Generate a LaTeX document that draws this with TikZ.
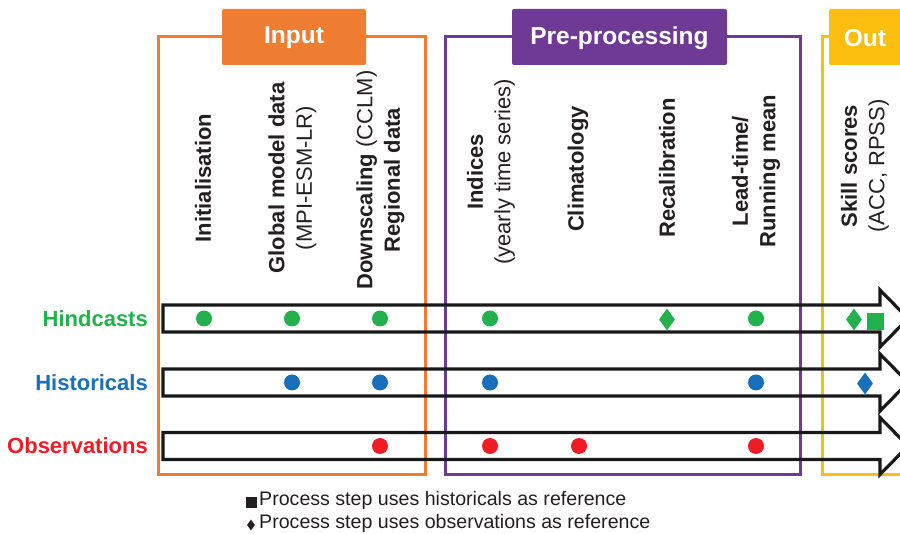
\documentclass[tikz,border=0pt]{standalone}
\usepackage{fontspec}
\setmainfont{Liberation Sans}
\usetikzlibrary{shapes.geometric}
\definecolor{cOrange}{HTML}{EE7D31}
\definecolor{cPurple}{HTML}{6E3A96}
\definecolor{cYellow}{HTML}{FDBE10}
\definecolor{cGreen}{HTML}{22B14C}
\definecolor{cBlue}{HTML}{1A6FBA}
\definecolor{cRed}{HTML}{EE1C24}
\definecolor{cText}{HTML}{231F20}
\tikzset{
  frame/.style={line width=3pt},
  header/.style={rounded corners=2pt},
  headtext/.style={text=white, font=\fontsize{24.5}{28}\selectfont\bfseries, inner sep=0pt},
  coltext/.style={rotate=90, align=center, text=cText, inner sep=0pt, font=\fontsize{22}{27.5}\selectfont},
  rowtext/.style={anchor=east, inner sep=0pt, font=\fontsize{22}{26}\selectfont\bfseries},
  flow/.style={draw=black!90, line width=3.2pt, line join=miter},
  dot/.style={circle, inner sep=0pt, minimum size=16pt},
  diam/.style={diamond, inner sep=0pt, minimum width=16pt, minimum height=22pt},
  sq/.style={rectangle, inner sep=0pt, minimum size=17pt},
  legtext/.style={anchor=west, inner sep=0pt, text=cText, font=\fontsize{19.6}{23}\selectfont}
}
\begin{document}
\begin{tikzpicture}[x=1pt, y=-1pt]
\useasboundingbox (0,0) rectangle (900,534);
\clip (0,0) rectangle (900,534);

% frames
\draw[frame, cOrange] (158,37) rectangle (425,475);
\draw[frame, cPurple] (445,37) rectangle (800,475);
\draw[frame, cYellow] (822,37) rectangle (920,475);

% headers
\fill[header, cOrange] (222,9) rectangle (366,65);
\node[headtext] (hin) at (294,38) {Input};
\fill[header, cPurple] (512,9) rectangle (727,65);
\node[headtext] (hpre) at (619.5,38) {Pre-processing};
\fill[header, cYellow] (829,9) rectangle (930,65);
\node[headtext] (hout) at (865,38) {Out};

% column texts
\node[coltext] (c1) at (203,178) {\bfseries Initialisation};
\node[coltext] (c2) at (292.5,178) {\bfseries Global model data\\(MPI-ESM-LR)};
\node[coltext] (c3) at (380.5,180) {{\bfseries Downscaling} (CCLM)\\\bfseries Regional data};
\node[coltext] (c4) at (491,172) {\bfseries Indices\\(yearly time series)};
\node[coltext] (c5) at (578,169) {\bfseries Climatology};
\node[coltext] (c6) at (667,168) {\bfseries Recalibration};
\node[coltext] (c7) at (756,171) {\bfseries Lead-time/\\\bfseries Running mean};
\node[coltext] (c8) at (865,166) {\bfseries Skill scores\\(ACC, RPSS)};

% row labels
\node[rowtext, text=cGreen] (rh) at (148,318.5) {Hindcasts};
\node[rowtext, text=cBlue] (rb) at (148,382.5) {Historicals};
\node[rowtext, text=cRed] (ro) at (148,446) {Observations};

% arrows
\foreach \cy in {318.5,382.5,446}{
  \draw[flow] (163,\cy-13.5) -- (880,\cy-13.5) -- (880,\cy-28.5) -- (908,\cy) -- (880,\cy+28.5) -- (880,\cy+13.5) -- (163,\cy+13.5) -- cycle;
}

% hindcast markers
\node[dot, fill=cGreen] (h1) at (204,318.5) {};
\node[dot, fill=cGreen] (h2) at (292,318.5) {};
\node[dot, fill=cGreen] (h3) at (380,318.5) {};
\node[dot, fill=cGreen] (h4) at (490,318.5) {};
\node[diam, fill=cGreen] (h6) at (667,319.5) {};
\node[dot, fill=cGreen] (h7) at (756,318.5) {};
\node[diam, fill=cGreen] (h8) at (854,319.5) {};
\node[sq, fill=cGreen] (h9) at (875,321.5) {};

% historical markers
\node[dot, fill=cBlue] (b2) at (292,382.5) {};
\node[dot, fill=cBlue] (b3) at (380,382.5) {};
\node[dot, fill=cBlue] (b4) at (490,382.5) {};
\node[dot, fill=cBlue] (b7) at (756,382.5) {};
\node[diam, fill=cBlue] (b8) at (865,383.5) {};

% observation markers
\node[dot, fill=cRed] (o3) at (380,446) {};
\node[dot, fill=cRed] (o4) at (490,446) {};
\node[dot, fill=cRed] (o5) at (579,446) {};
\node[dot, fill=cRed] (o7) at (756,446) {};

% legend
\node[rectangle, fill=cText, inner sep=0pt, minimum size=11pt] (lsq) at (251,502) {};
\node[legtext] (l1) at (259,500) {Process step uses historicals as reference};
\node[diamond, fill=cText, inner sep=0pt, minimum width=8pt, minimum height=11pt] (ldi) at (251,525) {};
\node[legtext] (l2) at (259,523) {Process step uses observations as reference};
\end{tikzpicture}
\end{document}
